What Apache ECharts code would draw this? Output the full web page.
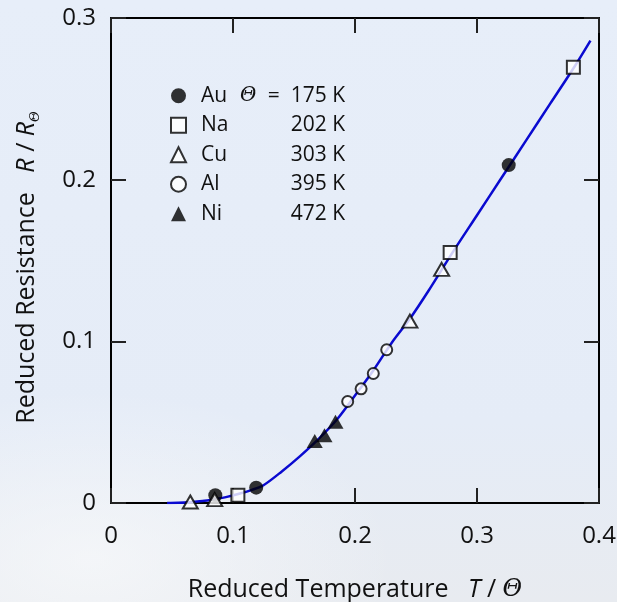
<!DOCTYPE html>
<html>
<head>
<meta charset="utf-8">
<script src="https://cdn.jsdelivr.net/npm/echarts@6/dist/echarts.min.js"></script>
<style>
html,body{margin:0;padding:0;}
#c{width:617px;height:602px;}
</style>
</head>
<body>
<div id="c"></div>
<script>
// ---- data ----
const xTicks = [0, 0.1, 0.2, 0.3, 0.4];
const yTicks = [0, 0.1, 0.2, 0.3];

const auX = [0.0855, 0.119, 0.326];
const auY = [0.0048, 0.0095, 0.209];
const naX = [0.104, 0.278, 0.379];
const naY = [0.0048, 0.155, 0.2695];
const cuX = [0.065, 0.085, 0.245, 0.271];
const cuY = [0.0006, 0.0021, 0.1125, 0.1445];
const alX = [0.194, 0.205, 0.215, 0.226];
const alY = [0.0628, 0.0706, 0.0801, 0.0948];
const niX = [0.167, 0.175, 0.184];
const niY = [0.0383, 0.0419, 0.0502];

const curveX = [0.046, 0.055, 0.065, 0.075, 0.085, 0.095, 0.105, 0.115, 0.125, 0.14, 0.155, 0.17, 0.185, 0.20, 0.215, 0.23, 0.245, 0.26, 0.28, 0.30, 0.32, 0.34, 0.36, 0.38, 0.393];
const curveY = [0.0, 0.0001, 0.0005, 0.0012, 0.0024, 0.0038, 0.0057, 0.0080, 0.0110, 0.0195, 0.0290, 0.0395, 0.0515, 0.0665, 0.0820, 0.0990, 0.1140, 0.1310, 0.1550, 0.1780, 0.2010, 0.2240, 0.2470, 0.2700, 0.2860];

const debyeTemps = {Au: '175 K', Na: '202 K', Cu: '303 K', Al: '395 K', Ni: '472 K'};

// ---- chart ----
const zip = (xs, ys) => xs.map((x, i) => [x, ys[i]]);
const FONT = 'Open Sans';
const INK = '#111';
const chart = echarts.init(document.getElementById('c'), null, {renderer: 'canvas'});

const axisCommon = {
  type: 'value',
  min: 0,
  interval: 0.1,
  axisLine: {show: true, onZero: false, lineStyle: {color: '#000', width: 2}},
  axisTick: {show: true, inside: true, length: 15, lineStyle: {color: '#222', width: 2}},
  splitLine: {show: false}
};

const openStyle = {color: '#fff', borderColor: '#000', borderWidth: 2};
const filledStyle = {color: '#000', borderColor: '#000', borderWidth: 0};

chart.setOption({
  animation: false,
  backgroundColor: {
    type: 'linear', x: 0, y: 0, x2: 0, y2: 1,
    colorStops: [
      {offset: 0, color: '#e7eef9'},
      {offset: 0.7, color: '#e5ecf7'},
      {offset: 1, color: '#e8ebf0'}
    ]
  },
  textStyle: {fontFamily: FONT},
  graphic: [{
    type: 'circle', z: -10, silent: true,
    shape: {cx: 90, cy: 560, r: 170},
    scaleX: 1.8, originX: 90, originY: 560,
    style: {fill: {type: 'radial', x: 0.5, y: 0.5, r: 0.5,
      colorStops: [{offset: 0, color: 'rgba(250,251,252,0.65)'}, {offset: 1, color: 'rgba(250,251,252,0)'}]}}
  }],
  grid: {left: 111, top: 18, width: 488, height: 485, containLabel: false, outerBoundsMode: 'none'},
  legend: {
    orient: 'vertical',
    left: 165,
    top: 76,
    itemWidth: 15,
    itemHeight: 15,
    itemGap: 0,
    data: ['Au', 'Na', 'Cu', 'Al', 'Ni'],
    formatter: function (name) {
      if (name === 'Au') return '{el|Au}{th|Θ}{v0|=  175 K}';
      return '{el|' + name + '}{v|' + debyeTemps[name] + '}';
    },
    textStyle: {
      fontFamily: FONT, fontSize: 21, color: INK, lineHeight: 29.5,
      rich: {
        el: {fontFamily: FONT, fontSize: 21, color: INK, width: 39, padding: [0, 0, 0, 10], lineHeight: 29.5},
        th: {fontFamily: 'DejaVu Serif', fontStyle: 'italic', fontSize: 20, color: INK, width: 25, lineHeight: 29.5},
        v0: {fontFamily: FONT, fontSize: 21, color: INK, width: 80, align: 'right', lineHeight: 29.5},
        v: {fontFamily: FONT, fontSize: 21, color: INK, width: 105, align: 'right', lineHeight: 29.5}
      }
    }
  },
  xAxis: [
    Object.assign({}, axisCommon, {
      position: 'bottom', max: 0.4,
      axisLabel: {show: true, margin: 21, fontSize: 24, color: INK, fontFamily: FONT,
        formatter: v => (v === 0 ? '0' : v.toFixed(1))},
      name: '{n|Reduced Temperature   }{i|T}{n| / }{t|Θ}',
      nameLocation: 'middle',
      nameGap: 74,
      nameTextStyle: {
        fontFamily: FONT, fontSize: 25, color: INK,
        rich: {
          n: {fontFamily: FONT, fontSize: 25, color: INK},
          i: {fontFamily: FONT, fontSize: 25, fontStyle: 'italic', color: INK},
          t: {fontFamily: 'DejaVu Serif', fontSize: 24, fontStyle: 'italic', color: INK}
        }
      }
    }),
    Object.assign({}, axisCommon, {
      position: 'top', max: 0.4, axisLabel: {show: false}
    })
  ],
  yAxis: [
    Object.assign({}, axisCommon, {
      position: 'left', max: 0.3,
      axisLabel: {show: true, margin: 15, fontSize: 24, color: INK, fontFamily: FONT,
        formatter: v => (v === 0 ? '0' : v.toFixed(1))},
      name: '{n|Reduced Resistance   }{i|R}{n| / }{i|R}{s|Θ}',
      nameLocation: 'middle',
      nameGap: 69,
      nameTextStyle: {
        fontFamily: FONT, fontSize: 25, color: INK,
        padding: [0, 14, 0, 0],
        rich: {
          n: {fontFamily: FONT, fontSize: 25, color: INK, lineHeight: 30},
          i: {fontFamily: FONT, fontSize: 25, fontStyle: 'italic', color: INK, lineHeight: 30},
          s: {fontFamily: 'DejaVu Serif', fontSize: 13, fontStyle: 'italic', color: INK, verticalAlign: 'bottom', lineHeight: 30}
        }
      }
    }),
    Object.assign({}, axisCommon, {
      position: 'right', max: 0.3, axisLabel: {show: false}
    })
  ],
  series: [
    {
      name: 'curve', type: 'line', data: zip(curveX, curveY), smooth: 0.3,
      showSymbol: false, symbol: 'none', z: 1,
      lineStyle: {color: '#0a0ad0', width: 2.5}
    },
    {name: 'Au', type: 'scatter', data: zip(auX, auY), symbol: 'circle', symbolSize: 14, itemStyle: filledStyle, z: 3},
    {name: 'Na', type: 'scatter', data: zip(naX, naY), symbol: 'rect', symbolSize: 13, itemStyle: openStyle, z: 3},
    {name: 'Cu', type: 'scatter', data: zip(cuX, cuY), symbol: 'triangle', symbolSize: [15, 13], itemStyle: openStyle, z: 3},
    {name: 'Al', type: 'scatter', data: zip(alX, alY), symbol: 'circle', symbolSize: 11, itemStyle: openStyle, z: 3},
    {name: 'Ni', type: 'scatter', data: zip(niX, niY), symbol: 'triangle', symbolSize: [16, 14], itemStyle: filledStyle, z: 3}
  ]
});
</script>
</body>
</html>
